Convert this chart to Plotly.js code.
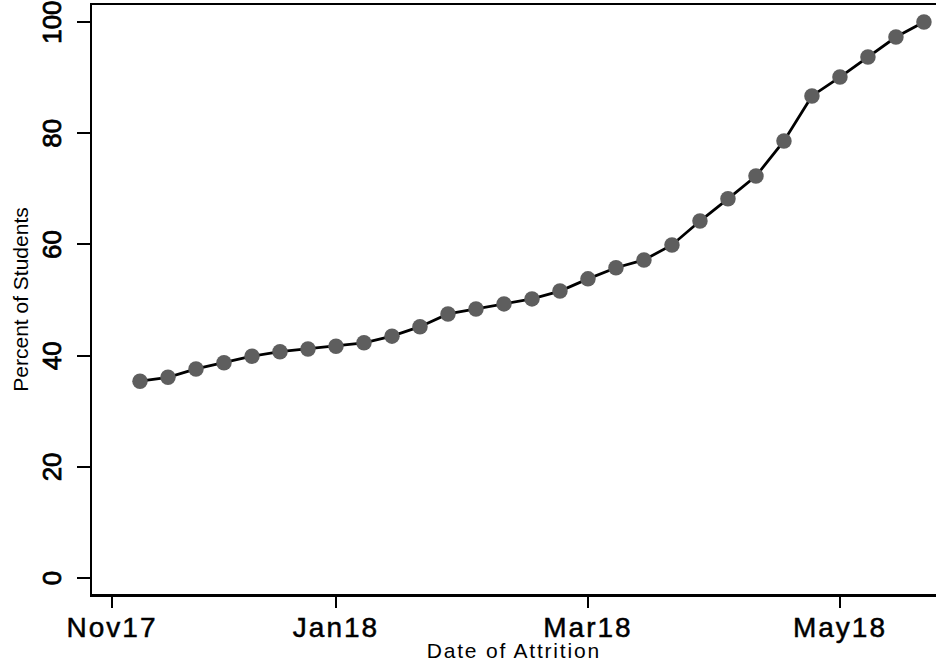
<!DOCTYPE html>
<html>
<head>
<meta charset="utf-8">
<script src="https://cdn.plot.ly/plotly-3.0.1.min.js"></script>
<style>
html,body{margin:0;padding:0;background:#fff;overflow:hidden;}
#chart{width:936px;height:664px;}
#chart .xtick text{letter-spacing:2px;stroke:#000;stroke-width:0.5px;}
#chart .ytick text{stroke:#000;stroke-width:0.8px;}
#chart .annotation-text{letter-spacing:1.8px;}
</style>
</head>
<body>
<div id="chart"></div>
<script>
// Week index since the Nov17 label (weekly attrition dates)
const weeks = [1,2,3,4,5,6,7,8,9,10,11,12,13,14,15,16,17,18,19,20,21,22,23,24,25,26,27,28,29];
// Cumulative percent of students
const percent = [35.4,36.1,37.6,38.7,39.9,40.7,41.2,41.7,42.3,43.5,45.2,47.5,48.4,49.3,50.2,51.6,53.8,55.8,57.2,59.9,64.2,68.2,72.3,78.6,86.7,90.1,93.7,97.3,100];
const xTickVals = [0,8,17,26];
const xTickText = ["Nov17","Jan18","Mar18","May18"];
const yTickVals = [0,20,40,60,80,100];
const xTitle = "Date of Attrition";
const yTitle = "Percent of Students";

const font = "Liberation Sans, Arial, sans-serif";
const trace = {
  x: weeks, y: percent, type: "scatter", mode: "lines+markers",
  line: {color: "#000000", width: 2.8},
  marker: {color: "#5e5e5e", size: 15.5, line: {width: 0}},
  hoverinfo: "skip"
};
const layout = {
  width: 936, height: 664,
  margin: {l: 92, r: 0, t: 5, b: 70},
  paper_bgcolor: "#ffffff", plot_bgcolor: "#ffffff",
  showlegend: false,
  font: {family: font, color: "#000000"},
  xaxis: {
    range: [-0.714, 29.43], tickmode: "array", tickvals: xTickVals, ticktext: xTickText,
    showgrid: false, zeroline: false, showline: true, linecolor: "#000", linewidth: 2.5, mirror: true,
    ticks: "outside", ticklen: 11, tickwidth: 2, tickcolor: "#000",
    tickfont: {size: 28, family: font}, ticklabelstandoff: -4
  },
  yaxis: {
    range: [-2.88, 103.06], tickmode: "array", tickvals: yTickVals,
    showgrid: false, zeroline: false, showline: true, linecolor: "#000", linewidth: 2.5,
    ticks: "outside", ticklen: 13, tickwidth: 2, tickcolor: "#000",
    tickangle: -90, tickfont: {size: 26, family: font}, ticklabelstandoff: 5,
    ticklabelshift: 4, ticklabeloverflow: "allow",
    title: {text: yTitle, font: {size: 21, family: font}, standoff: 3}
  },
  annotations: [{
    text: xTitle, xref: "paper", yref: "paper", x: 0.5, y: 0,
    xanchor: "center", yanchor: "middle", yshift: -56, showarrow: false,
    font: {size: 21, family: font, color: "#000"}
  }]
};
Plotly.newPlot("chart", [trace], layout, {displayModeBar: false, staticPlot: true});
</script>
</body>
</html>
